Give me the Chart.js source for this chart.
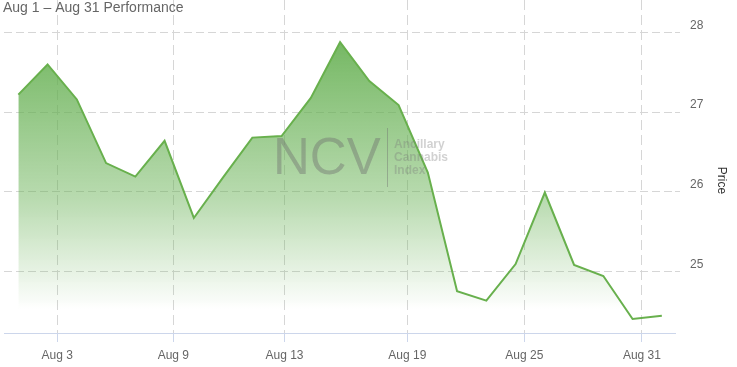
<!DOCTYPE html>
<html>
<head>
<meta charset="utf-8">
<script src="https://cdn.jsdelivr.net/npm/chart.js@4.4.0/dist/chart.umd.min.js"></script>
<style>
  body { margin: 0; background: #fff; }
  #wrap { position: relative; width: 737px; height: 367px; }
</style>
</head>
<body>
<div id="wrap"><canvas id="perfChart"></canvas></div>
<script>
// Daily index prices (one per trading session)
const prices = [27.22, 27.60, 27.16, 26.36, 26.19, 26.64, 25.67, 26.18, 26.68, 26.70, 27.18,
                27.88, 27.39, 27.09, 26.24, 24.75, 24.63, 25.09, 25.99, 25.08, 24.94, 24.40, 24.44];

// Date ticks sit between sessions, so positions are given in session-index units
const xTickPos = [1.33, 5.30, 9.10, 13.30, 17.30, 21.32];
const xTickLabels = ['Aug 3', 'Aug 9', 'Aug 13', 'Aug 19', 'Aug 25', 'Aug 31'];
const yTicks = [25, 26, 27, 28];

const chartTitle = 'Aug 1 \u2013 Aug 31 Performance';
const yTitle = 'Price';

const lineColor = '#68b04d';

// title, axis name and the NCV watermark
const decorPlugin = {
  id: 'decorPlugin',
  afterDatasetsDraw(chart) {
    const { ctx, chartArea } = chart;
    const x0 = chartArea.left, y0 = chartArea.top;
    ctx.save();
    ctx.fillStyle = 'rgba(110,110,110,0.42)';
    ctx.font = '51px "Liberation Sans", Arial, sans-serif';
    ctx.textBaseline = 'alphabetic';
    ctx.fillText('NCV', x0 + 269, y0 + 174);
    ctx.fillRect(x0 + 383, y0 + 128, 1, 59);
    ctx.fillStyle = 'rgba(120,120,120,0.34)';
    ctx.font = 'bold 12px "Liberation Sans", Arial, sans-serif';
    ctx.fillText('Ancillary', x0 + 390, y0 + 147.5);
    ctx.fillText('Cannabis', x0 + 390, y0 + 160.5);
    ctx.fillText('Index', x0 + 390, y0 + 173.5);
    ctx.restore();
  },
  afterDraw(chart) {
    const { ctx } = chart;
    ctx.save();
    ctx.fillStyle = '#666';
    ctx.font = '14px "Liberation Sans", Arial, sans-serif';
    ctx.textBaseline = 'alphabetic';
    ctx.fillText(chartTitle, 3, 12);

    ctx.fillStyle = '#333';
    ctx.font = '12px "Liberation Sans", Arial, sans-serif';
    ctx.translate(721, 180.5);
    ctx.rotate(Math.PI / 2);
    ctx.textAlign = 'center';
    ctx.textBaseline = 'middle';
    ctx.fillText(yTitle, 0, 0);
    ctx.restore();
  }
};

const ctx = document.getElementById('perfChart').getContext('2d');
new Chart(ctx, {
  type: 'line',
  data: {
    datasets: [{
      data: prices.map((v, i) => ({ x: i, y: v })),
      borderColor: lineColor,
      borderWidth: 2,
      pointRadius: 0,
      tension: 0,
      fill: 'start',
      backgroundColor(context) {
        const area = context.chart.chartArea;
        if (!area) return 'rgba(100,175,80,0.4)';
        const g = context.chart.ctx.createLinearGradient(0, area.top, 0, area.bottom);
        g.addColorStop(0, 'rgba(100,175,80,1)');
        g.addColorStop(0.6, 'rgba(100,175,80,0.45)');
        g.addColorStop(0.93, 'rgba(100,175,80,0)');
        return g;
      }
    }]
  },
  options: {
    responsive: true,
    maintainAspectRatio: false,
    animation: false,
    layout: { padding: { left: 4, top: 0, right: 0, bottom: 0 } },
    plugins: {
      legend: { display: false },
      tooltip: { enabled: false },
      title: { display: false }
    },
    scales: {
      x: {
        type: 'linear',
        min: -0.49,
        max: 22.45,
        afterBuildTicks(scale) {
          scale.ticks = xTickPos.map(v => ({ value: v }));
        },
        afterFit(scale) {
          scale.height = 34;
          scale.paddingLeft = 0;
          scale.paddingRight = 0;
        },
        grid: {
          color: '#d6d6d6',
          tickLength: 9,
          tickBorderDash: [],
          tickColor: '#ccd6eb'
        },
        border: { display: true, color: '#ccd6eb', dash: [10, 5] },
        ticks: {
          maxRotation: 0,
          autoSkip: false,
          padding: 6,
          color: '#666',
          font: { family: '"Liberation Sans", Arial, sans-serif', size: 12 },
          callback(value, index) { return xTickLabels[index]; }
        }
      },
      y: {
        position: 'right',
        min: 24.224,
        max: 28.41,
        afterBuildTicks(scale) {
          scale.ticks = yTicks.map(v => ({ value: v }));
        },
        afterFit(scale) {
          scale.width = 62;
          scale.paddingTop = 0;
          scale.paddingBottom = 0;
        },
        grid: {
          color: '#d6d6d6',
          tickLength: 5,
          tickBorderDash: [8, 4]
        },
        border: { display: false, dash: [8, 4] },
        ticks: {
          padding: 10,
          labelOffset: -7,
          color: '#666',
          font: { family: '"Liberation Sans", Arial, sans-serif', size: 12 },
          callback(value) { return String(value); }
        }
      }
    }
  },
  plugins: [decorPlugin]
});
</script>
</body>
</html>
